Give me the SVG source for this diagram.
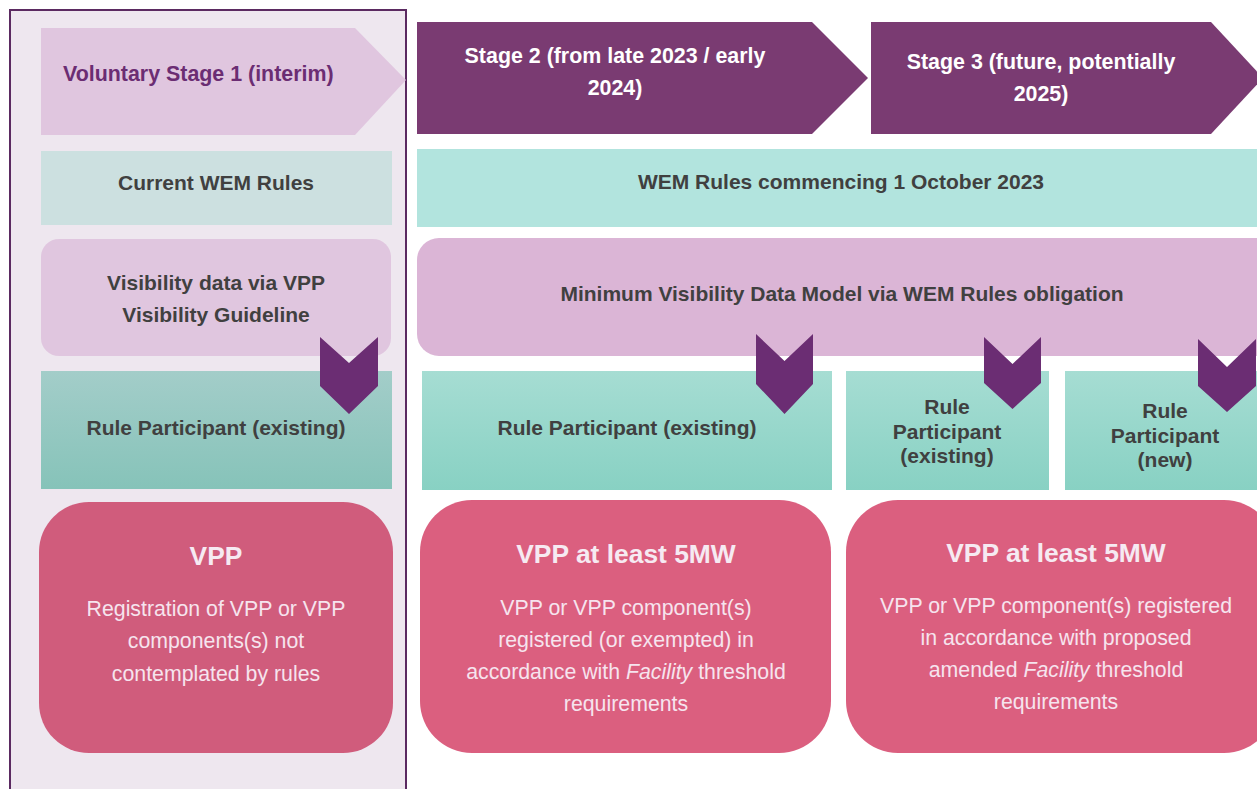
<svg xmlns="http://www.w3.org/2000/svg" width="1257" height="789" viewBox="0 0 1257 789">
  <defs>
    <linearGradient id="rpGrey" x1="0" y1="0" x2="0" y2="1">
      <stop offset="0" stop-color="#a3cdc9"/>
      <stop offset="1" stop-color="#86c3b9"/>
    </linearGradient>
    <linearGradient id="rpTeal" x1="0" y1="0" x2="0" y2="1">
      <stop offset="0" stop-color="#a6ddd3"/>
      <stop offset="1" stop-color="#88d1c3"/>
    </linearGradient>
    <style>
      text { font-family: "Liberation Sans", Arial, sans-serif; text-anchor: middle; }
      .hd { font-weight: bold; font-size: 21px; fill: #404040; }
      .stage { font-weight: bold; font-size: 21.4px; fill: #ffffff; }
      .title { font-weight: bold; font-size: 26.4px; fill: #f6eaf2; }
      .body { font-size: 21.3px; fill: #f6e4ee; }
      .chev { fill: #6b2d73; }
    </style>
  </defs>

  <rect width="1257" height="789" fill="#ffffff"/>

  <!-- Stage 1 panel -->
  <g id="stage1-panel">
    <rect x="10" y="10" width="396" height="790" fill="#eee7ef" stroke="#5b2a61" stroke-width="2"/>
  </g>

  <!-- Stage header arrows -->
  <g id="stage1">
    <polygon points="41,28 355,28 406,80 355,135 41,135" fill="#e0c6df"/>
    <text x="63" y="81" class="hd" style="fill:#6b2d73;text-anchor:start;font-size:21.4px">Voluntary Stage 1 (interim)</text>
  </g>
  <g id="stage2">
    <polygon points="417,22 812,22 868,78 812,134 417,134" fill="#7a3b72"/>
    <text x="615" y="63" class="stage">Stage 2 (from late 2023 / early</text>
    <text x="615" y="95" class="stage">2024)</text>
  </g>
  <g id="stage3">
    <polygon points="871,22 1211,22 1263,78 1211,134 871,134" fill="#7a3b72"/>
    <text x="1041" y="69" class="stage">Stage 3 (future, potentially</text>
    <text x="1041" y="101" class="stage">2025)</text>
  </g>

  <!-- Rules rows -->
  <g id="rules-current">
    <rect x="41" y="151" width="351" height="74" fill="#cce0e0"/>
    <text x="216" y="190" class="hd">Current WEM Rules</text>
  </g>
  <g id="rules-new">
    <rect x="417" y="149" width="845" height="78" fill="#b2e4de"/>
    <text x="841" y="189" class="hd">WEM Rules commencing 1 October 2023</text>
  </g>

  <!-- Visibility rows -->
  <g id="visibility-guideline">
    <rect x="41" y="239" width="350" height="117" rx="18" fill="#e0c6df"/>
    <text x="216" y="290" class="hd">Visibility data via VPP</text>
    <text x="216" y="322" class="hd">Visibility Guideline</text>
  </g>
  <g id="visibility-model">
    <rect x="417" y="238" width="860" height="118" rx="22" fill="#dbb5d6"/>
    <text x="842" y="301" class="hd">Minimum Visibility Data Model via WEM Rules obligation</text>
  </g>

  <!-- Rule Participant rows -->
  <g id="rp-stage1">
    <rect x="41" y="371" width="351" height="118" fill="url(#rpGrey)"/>
    <text x="216" y="435" class="hd">Rule Participant (existing)</text>
  </g>
  <g id="rp-stage2">
    <rect x="422" y="371" width="410" height="119" fill="url(#rpTeal)"/>
    <text x="627" y="435" class="hd">Rule Participant (existing)</text>
  </g>
  <g id="rp-stage3-existing">
    <rect x="846" y="371" width="203" height="119" fill="url(#rpTeal)"/>
    <text x="947" y="414" class="hd">Rule</text>
    <text x="947" y="439" class="hd">Participant</text>
    <text x="947" y="463" class="hd">(existing)</text>
  </g>
  <g id="rp-stage3-new">
    <rect x="1065" y="371" width="200" height="119" fill="url(#rpTeal)"/>
    <text x="1165" y="418" class="hd">Rule</text>
    <text x="1165" y="443" class="hd">Participant</text>
    <text x="1165" y="467" class="hd">(new)</text>
  </g>

  <!-- Downward chevrons linking visibility to participants -->
  <g id="connectors">
    <polygon class="chev" points="320,337 349,363 378,337 378,386 349,414 320,386"/>
    <polygon class="chev" points="756,334 784.5,361 813,334 813,384 784.5,414 756,384"/>
    <polygon class="chev" points="984,337 1012.5,364 1041,337 1041,383 1012.5,409 984,383"/>
    <polygon class="chev" points="1198,339 1227,367 1256,339 1256,386 1227,412 1198,386"/>
  </g>

  <!-- VPP outcome boxes -->
  <g id="vpp-stage1">
    <rect x="39" y="502" width="354" height="251" rx="50" fill="#d05c7c"/>
    <text x="216" y="565" class="title">VPP</text>
    <text x="216" y="616" class="body">Registration of VPP or VPP</text>
    <text x="216" y="648" class="body">components(s) not</text>
    <text x="216" y="681" class="body">contemplated by rules</text>
  </g>
  <g id="vpp-stage2">
    <rect x="420" y="500" width="411" height="253" rx="52" fill="#db5f7f"/>
    <text x="626" y="563" class="title">VPP at least 5MW</text>
    <text x="626" y="615" class="body">VPP or VPP component(s)</text>
    <text x="626" y="647" class="body">registered (or exempted) in</text>
    <text x="626" y="679" class="body">accordance with <tspan font-style="italic">Facility</tspan> threshold</text>
    <text x="626" y="711" class="body">requirements</text>
  </g>
  <g id="vpp-stage3">
    <rect x="846" y="500" width="430" height="253" rx="52" fill="#db5f7f"/>
    <text x="1056" y="562" class="title">VPP at least 5MW</text>
    <text x="1056" y="613" class="body">VPP or VPP component(s) registered</text>
    <text x="1056" y="645" class="body">in accordance with proposed</text>
    <text x="1056" y="677" class="body">amended <tspan font-style="italic">Facility</tspan> threshold</text>
    <text x="1056" y="709" class="body">requirements</text>
  </g>
</svg>
